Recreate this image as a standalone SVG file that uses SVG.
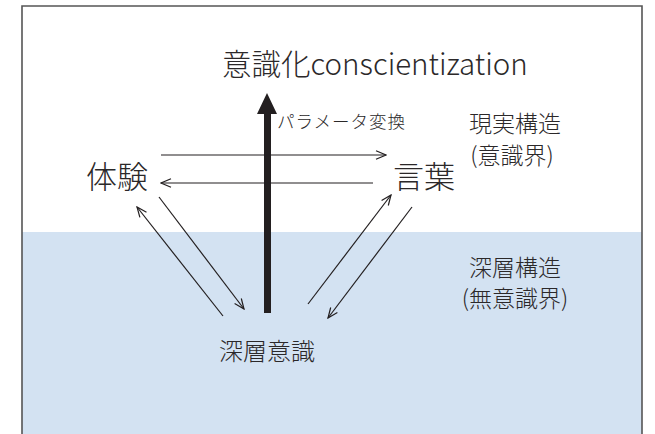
<svg xmlns="http://www.w3.org/2000/svg" width="655" height="434" viewBox="0 0 655 434">
<defs>
<style>
text{font-family:"Noto Sans CJK JP","Noto Sans",sans-serif;font-weight:300;fill:#2b2829;}
.c{stroke:#231f20;stroke-width:1.2;fill:none;marker-end:url(#ah);}
</style>
<marker id="ah" viewBox="0 0 12 10" refX="11" refY="5" markerWidth="12" markerHeight="10" markerUnits="userSpaceOnUse" orient="auto">
<polyline points="1,0.8 11,5 1,9.2" fill="none" stroke="#231f20" stroke-width="1.2"/>
</marker>
</defs>
<rect x="0" y="0" width="655" height="434" fill="#fff"/>
<rect x="22" y="232" width="620" height="202" fill="#d3e2f2"/>
<path d="M22,434 V6 H642 V434" fill="none" stroke="#555" stroke-width="1.6"/>
<g id="title"><text x="222" y="75" font-size="29.5">意識化conscientization</text></g>
<g id="taiken"><text x="86" y="188" font-size="31">体験</text></g>
<g id="kotoba"><text x="393" y="188" font-size="31">言葉</text></g>
<g id="shinsou"><text x="219" y="360" font-size="24">深層意識</text></g>
<g id="genjitsu"><text x="515" y="132" font-size="23" text-anchor="middle">現実構造</text><text x="512" y="164" font-size="23" text-anchor="middle">(意識界)</text></g>
<g id="shinsoukouzou"><text x="515" y="276" font-size="23" text-anchor="middle">深層構造</text><text x="515" y="307" font-size="23" text-anchor="middle">(無意識界)</text></g>
<g id="connectors">
<path d="M264,113 H271 V313 H264 Z M257,114 L267,93 L277,114 Z" fill="#231f20"/>
<text x="277" y="128" font-size="17.5" letter-spacing="1">パラメータ変換</text>
<line class="c" x1="161" y1="155" x2="386" y2="155"/>
<line class="c" x1="373" y1="183" x2="161" y2="183"/>
<line class="c" x1="223" y1="316" x2="137" y2="207"/>
<line class="c" x1="159" y1="197" x2="244" y2="309"/>
<line class="c" x1="308" y1="304" x2="391" y2="195"/>
<line class="c" x1="412" y1="207" x2="328" y2="318"/>
</g>
</svg>
